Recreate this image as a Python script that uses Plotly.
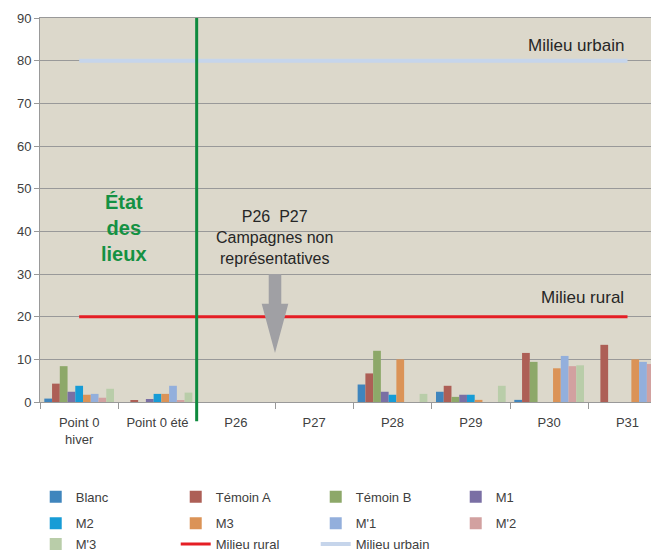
import plotly.graph_objects as go

categories = ["Point 0<br>hiver", "Point 0 été", "P26", "P27", "P28", "P29", "P30", "P31"]

blanc     = [0.8, 0, None, None, 4.1, 2.4, 0.5, None]
temoin_a  = [4.3, 0.25, None, None, 6.7, 3.8, 11.5, 13.4]
temoin_b  = [8.4, 0, None, None, 12.0, 1.2, 9.4, None]
m1        = [2.4, 0.7, None, None, 2.4, 1.7, None, None]
m2        = [3.8, 1.9, None, None, 1.7, 1.7, None, None]
m3        = [1.7, 1.9, None, None, 10.0, 0.5, 7.9, 10.0]
mp1       = [1.9, 3.8, None, None, None, None, 10.8, 9.4]
mp2       = [1.0, 0.25, None, None, None, None, 8.4, 8.9]
mp3       = [3.1, 2.2, None, None, 1.9, 3.8, 8.6, None]
milieu_rural  = [20] * 8
milieu_urbain = [80] * 8

y_ticks = [0, 10, 20, 30, 40, 50, 60, 70, 80, 90]

bar_series = [
    ("Blanc", blanc, "#3F85BD", "legend"),
    ("Témoin A", temoin_a, "#AD5F56", "legend"),
    ("Témoin B", temoin_b, "#8DA869", "legend"),
    ("M1", m1, "#7A6FA4", "legend"),
    ("M2", m2, "#179CD6", "legend2"),
    ("M3", m3, "#DB9357", "legend2"),
    ("M'1", mp1, "#93AFDC", "legend2"),
    ("M'2", mp2, "#D2A1A0", "legend2"),
    ("M'3", mp3, "#B9CDA9", "legend3"),
]

FONT = "Liberation Sans"
TXT = "#404040"

fig = go.Figure()
for name, vals, col, lg in bar_series:
    fig.add_trace(go.Bar(x=categories, y=vals, name=name, marker_color=col,
                         marker_line_width=0, legend=lg))

fig.add_trace(go.Scatter(x=categories, y=milieu_rural, name="Milieu rural", mode="lines",
                         line=dict(color="#E51E25", width=3), legend="legend3"))
fig.add_trace(go.Scatter(x=categories, y=milieu_urbain, name="Milieu urbain", mode="lines",
                         line=dict(color="#C6D5EB", width=4), legend="legend3"))

x_range = [-0.5, 7.3]
div_x = 1.5
div_paper = (div_x - x_range[0]) / (x_range[1] - x_range[0])

shapes = [
    dict(type="line", xref="paper", yref="paper", x0=div_paper, x1=div_paper,
         y0=-0.05, y1=1.0, line=dict(color="#0E8A3E", width=3), layer="above"),
    dict(type="path", xref="x", yref="y", fillcolor="#A0A0A4", line=dict(width=0),
         path="M 2.42 30 L 2.58 30 L 2.58 23 L 2.67 23 L 2.50 11.5 L 2.33 23 L 2.42 23 Z"),
]

annotations = [
    dict(x=0.57, y=40.7, xref="x", yref="y", text="<b>État<br>des<br>lieux</b>", showarrow=False,
         font=dict(family=FONT, size=20, color="#149143"), align="center"),
    dict(x=2.49, y=38.6, xref="x", yref="y", text="P26  P27<br>Campagnes non<br>représentatives",
         showarrow=False, font=dict(family=FONT, size=16, color="#262626"), align="center"),
    dict(x=6.34, y=83.6, xref="x", yref="y", text="Milieu urbain", showarrow=False,
         font=dict(family=FONT, size=17, color="#262626")),
    dict(x=6.43, y=24.6, xref="x", yref="y", text="Milieu rural", showarrow=False,
         font=dict(family=FONT, size=17, color="#262626")),
]

def leg(ypos):
    return dict(orientation="h", x=-0.007, xanchor="left", y=ypos, yanchor="middle",
                entrywidth=95, entrywidthmode="pixels", itemwidth=30,
                font=dict(family=FONT, size=13, color=TXT), traceorder="normal",
                bgcolor="rgba(0,0,0,0)")

fig.update_layout(
    width=651, height=555, autosize=False,
    margin=dict(l=40, r=0, t=18, b=153, autoexpand=False),
    paper_bgcolor="white", plot_bgcolor="#DCD8CB",
    barmode="group", bargap=0.11, bargroupgap=0,
    font=dict(family=FONT, size=13, color=TXT),
    shapes=shapes, annotations=annotations,
    showlegend=True,
    legend=leg(-0.247), legend2=leg(-0.316), legend3=leg(-0.37),
)
fig.update_xaxes(type="category", range=x_range, showgrid=False, tickson="boundaries",
                 ticks="outside", ticklen=6, tickcolor="#999999", showline=True,
                 linecolor="#999999", linewidth=1, mirror=True, ticklabelstandoff=8,
                 tickfont=dict(family=FONT, size=13, color=TXT))
fig.update_yaxes(range=[0, 90], tickvals=y_ticks, showgrid=True, gridcolor="#999999",
                 gridwidth=1, showline=True, linecolor="#999999", ticks="outside",
                 ticklen=5, tickcolor="#999999", zeroline=False,
                 tickfont=dict(family=FONT, size=13, color=TXT))

fig.write_html("out.html", config={"displayModeBar": False},
               post_script="document.body.style.margin='0';document.body.style.overflow='hidden';")
